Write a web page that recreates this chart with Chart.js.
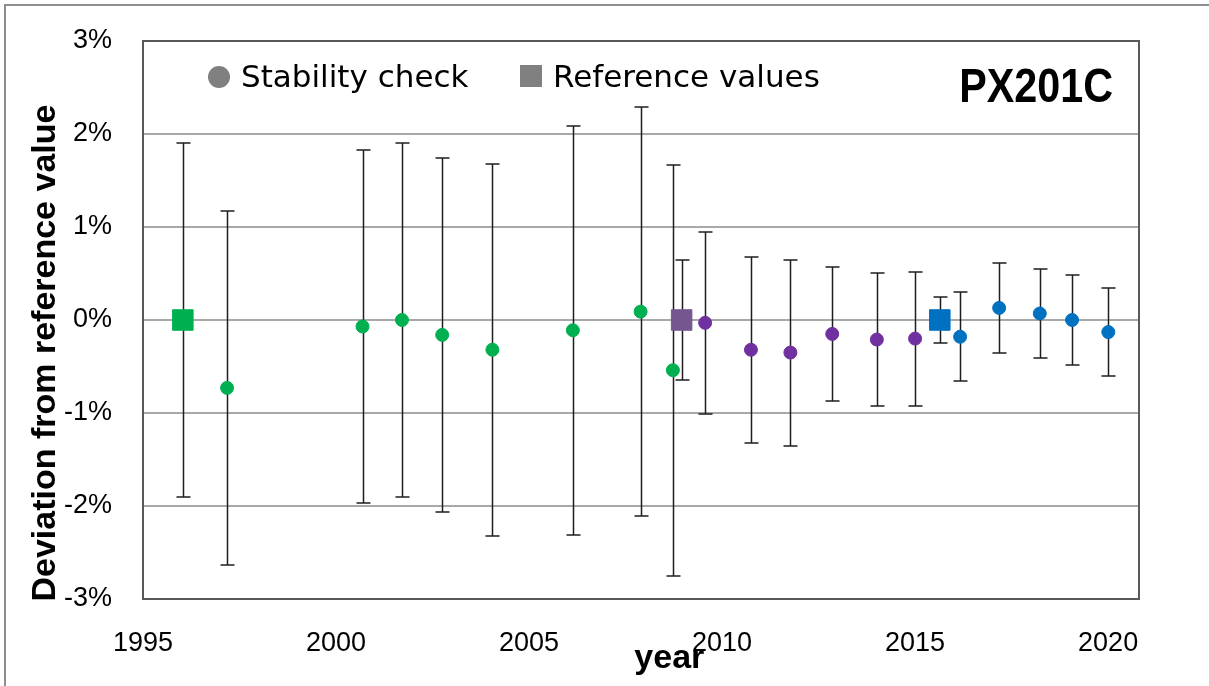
<!DOCTYPE html>
<html>
<head>
<meta charset="utf-8">
<script src="https://cdn.jsdelivr.net/npm/chart.js@4.4.1/dist/chart.umd.min.js"></script>
<style>
    html, body { margin: 0; padding: 0; background: #fff; overflow: hidden; }
    #frame { position: absolute; left: 4px; top: 4px; width: 1300px; height: 800px; border: 2px solid #8e8e8e; }
    #wrap { position: absolute; left: 0; top: 0; width: 1209px; height: 686px; }
</style>
</head>
<body>
<div id="frame"></div>
<div id="wrap"><canvas id="chart" width="1209" height="686"></canvas></div>
<script>
// stability checks, split by period (values in %, error = half width of the bar)
const greenYears = [1997.11, 2000.51, 2001.50, 2002.51, 2003.77, 2005.79, 2007.49, 2008.30];
const greenValues = [-0.73, -0.07, 0.00, -0.16, -0.32, -0.11, 0.09, -0.54];
const greenErrors = [1.90, 1.90, 1.90, 1.90, 2.00, 2.20, 2.20, 2.21];

const purpleYears = [2009.11, 2010.26, 2011.25, 2012.30, 2013.42, 2014.38];
const purpleValues = [-0.03, -0.32, -0.35, -0.15, -0.21, -0.20];
const purpleErrors = [0.98, 1.00, 1.00, 0.72, 0.72, 0.72];

const blueYears = [2015.51, 2016.49, 2017.51, 2018.32, 2019.23];
const blueValues = [-0.18, 0.13, 0.07, 0.00, -0.13];
const blueErrors = [0.48, 0.48, 0.48, 0.48, 0.47];

// reference values
const refYears = [1996.0, 2008.52, 2015.0];
const refValues = [0, 0, 0];
const refErrors = [1.90, 0.645, 0.25];

const yTicks = [-3, -2, -1, 0, 1, 2, 3];
const xTickLabels = [1995, 2000, 2005, 2010, 2015, 2020];

const refColors = ['#00b050', '#76568f', '#0070c0'];

function toPoints(xs, ys) {
    return xs.map((v, i) => ({ x: v, y: ys[i] }));
}

const errorBars = {
    id: 'errorBars',
    beforeDatasetsDraw(chart) {
        const { ctx, chartArea, scales } = chart;
        const x = scales.x, y = scales.y;
        ctx.save();
        // plot area box
        ctx.strokeStyle = '#595959';
        ctx.lineWidth = 2;
        ctx.strokeRect(chartArea.left, chartArea.top, chartArea.right - chartArea.left, chartArea.bottom - chartArea.top);

        ctx.strokeStyle = '#1e1e1e';
        ctx.lineWidth = 1.5;
        chart.data.datasets.forEach(ds => {
            ds.data.forEach((p, i) => {
                const px = Math.round(x.getPixelForValue(p.x)) + 0.5;
                const top = Math.round(y.getPixelForValue(p.y + ds.errors[i]));
                const bot = Math.round(y.getPixelForValue(p.y - ds.errors[i]));
                ctx.beginPath();
                ctx.moveTo(px, top);
                ctx.lineTo(px, bot);
                ctx.moveTo(px - 7, top);
                ctx.lineTo(px + 7, top);
                ctx.moveTo(px - 7, bot);
                ctx.lineTo(px + 7, bot);
                ctx.stroke();
            });
        });
        ctx.restore();
    }
};

const insideLegend = {
    id: 'insideLegend',
    afterDraw(chart) {
        const { ctx, chartArea } = chart;
        const l = chartArea.left, t = chartArea.top;
        ctx.save();
        ctx.fillStyle = '#808080';
        ctx.beginPath();
        ctx.arc(l + 76, t + 36, 11, 0, Math.PI * 2);
        ctx.fill();
        ctx.fillRect(l + 377, t + 24, 22, 22);

        ctx.fillStyle = '#000';
        ctx.font = '31px "DejaVu Sans"';
        ctx.textBaseline = 'alphabetic';
        ctx.textAlign = 'left';
        ctx.fillText('Stability check', l + 98, t + 46);
        ctx.fillText('Reference values', l + 410, t + 46);

        // condensed bold label
        ctx.font = 'bold 48px "Liberation Sans"';
        ctx.textAlign = 'right';
        ctx.translate(chartArea.right - 26, t + 61);
        ctx.scale(0.86, 1);
        ctx.fillText('PX201C', 0, 0);
        ctx.restore();
    }
};

const ctx = document.getElementById('chart').getContext('2d');

new Chart(ctx, {
    type: 'scatter',
    data: {
        datasets: [
            {
                label: 'Stability check',
                data: toPoints(greenYears, greenValues),
                errors: greenErrors,
                backgroundColor: '#00b050',
                borderColor: '#00b050',
                pointRadius: 6.5,
                borderWidth: 1
            },
            {
                label: 'Stability check',
                data: toPoints(purpleYears, purpleValues),
                errors: purpleErrors,
                backgroundColor: '#7030a0',
                borderColor: '#7030a0',
                pointRadius: 6.5,
                borderWidth: 1
            },
            {
                label: 'Stability check',
                data: toPoints(blueYears, blueValues),
                errors: blueErrors,
                backgroundColor: '#0070c0',
                borderColor: '#0070c0',
                pointRadius: 6.5,
                borderWidth: 1
            },
            {
                label: 'Reference values',
                data: toPoints(refYears, refValues),
                errors: refErrors,
                backgroundColor: refColors,
                borderColor: refColors,
                pointStyle: 'rect',
                pointRadius: 14.5,
                borderWidth: 1
            }
        ]
    },
    options: {
        responsive: false,
        animation: false,
        layout: {
            padding: { top: 41, right: 70, left: 0, bottom: 0 }
        },
        plugins: {
            legend: { display: false },
            tooltip: { enabled: false }
        },
        scales: {
            x: {
                type: 'linear',
                display: false,
                min: 1995,
                max: 2020
            },
            // label axis, matches the placement of the year labels in the original
            xl: {
                type: 'linear',
                position: 'bottom',
                min: 1995,
                max: 2020.8,
                afterFit: s => { s.height = 87; },
                afterBuildTicks: s => { s.ticks = xTickLabels.map(v => ({ value: v })); },
                grid: { display: false, drawTicks: false },
                border: { display: false },
                ticks: {
                    padding: 28,
                    color: '#000',
                    font: { family: 'Liberation Sans', size: 27 },
                    callback: v => String(v)
                },
                title: {
                    display: true,
                    text: '      year',
                    color: '#000',
                    font: { family: 'Liberation Sans', size: 34, weight: 'bold' },
                    padding: { top: 0, bottom: 7 }
                }
            },
            y: {
                min: -3,
                max: 3,
                afterFit: s => {
                    s.width = 143;
                    s.paddingTop = 0;
                    s.paddingBottom = 0;
                },
                afterBuildTicks: s => { s.ticks = yTicks.map(v => ({ value: v })); },
                grid: { color: '#a8a8a8', lineWidth: 2, drawTicks: false },
                border: { display: false },
                ticks: {
                    padding: 31,
                    color: '#000',
                    font: { family: 'Liberation Sans', size: 27 },
                    callback: v => v + '%'
                },
                title: {
                    display: true,
                    text: 'Deviation from reference value       ',
                    color: '#000',
                    font: { family: 'Liberation Sans', size: 34, weight: 'bold' },
                    padding: { top: 25, bottom: 0 }
                }
            }
        }
    },
    plugins: [errorBars, insideLegend]
});
</script>
</body>
</html>
